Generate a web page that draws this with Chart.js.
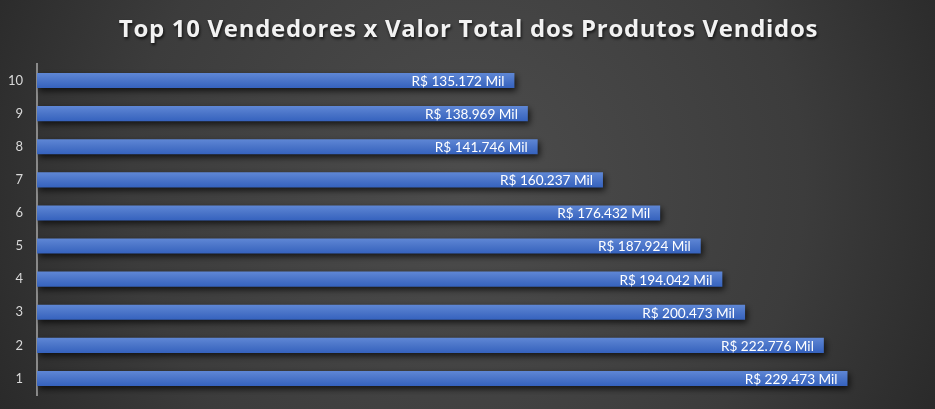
<!DOCTYPE html>
<html><head><meta charset="utf-8">
<script src="https://cdn.jsdelivr.net/npm/chart.js@4"></script>
<style>html,body{margin:0;padding:0;background:#333;}#wrap{width:935px;height:409px;}</style>
</head><body><div id="wrap"><canvas id="c" width="935" height="409"></canvas></div>
<script>
const titleText = 'Top 10 Vendedores x Valor Total dos Produtos Vendidos';
const categories = ['1','2','3','4','5','6','7','8','9','10'];
const valuesThousands = [229.473, 222.776, 200.473, 194.042, 187.924, 176.432, 160.237, 141.746, 138.969, 135.172];
const xMin = 0, xMax = 250;

function fmt(v){ return 'R$ ' + v.toFixed(3) + ' Mil'; }

const bgPlugin = {
  id:'bg',
  beforeDraw(chart){
    const {ctx,width,height} = chart;
    ctx.save();
    const g = ctx.createRadialGradient(width*0.5,height*0.45,0,width*0.5,height*0.45,width*0.6);
    g.addColorStop(0,'#4d4d4d');
    g.addColorStop(0.6,'#3c3c3c');
    g.addColorStop(1,'#262626');
    ctx.fillStyle = g;
    ctx.fillRect(0,0,width,height);
    ctx.font = 'bold 24px "Open Sans"';
    ctx.textAlign = 'center';
    ctx.textBaseline = 'alphabetic';
    try{ ctx.letterSpacing = '0.7px'; }catch(e){}
    ctx.shadowColor = 'rgba(0,0,0,0.7)';
    ctx.shadowBlur = 3; ctx.shadowOffsetX = 1; ctx.shadowOffsetY = 2;
    ctx.fillStyle = '#f2f2f2';
    ctx.fillText(titleText, width/2 + 1, 37);
    ctx.restore();
  },
  beforeDatasetsDraw(chart){
    const ctx = chart.ctx;
    ctx.save();
    ctx.shadowColor = 'rgba(0,0,0,0.7)';
    ctx.shadowBlur = 6; ctx.shadowOffsetX = 2; ctx.shadowOffsetY = 3;
  },
  afterDatasetsDraw(chart){
    const ctx = chart.ctx;
    ctx.restore();
    const meta = chart.getDatasetMeta(0);
    ctx.save();
    ctx.font = '13.6px Lato';
    ctx.fillStyle = '#ffffff';
    ctx.textAlign = 'right';
    ctx.textBaseline = 'middle';
    meta.data.forEach((el,i)=>{
      ctx.fillText(fmt(valuesThousands[i]), el.x - 10, el.y + 1);
    });
    ctx.restore();
  }
};

new Chart(document.getElementById('c'), {
  type:'bar',
  data:{
    labels: categories,
    datasets:[{
      data: valuesThousands,
      borderWidth:0,
      backgroundColor(c){
        const chart = c.chart;
        const ys = chart.scales && chart.scales.y;
        if(!ys || !chart.chartArea) return '#4472c4';
        const yc = ys.getPixelForValue(c.dataIndex);
        const g = chart.ctx.createLinearGradient(0,yc-8,0,yc+8);
        g.addColorStop(0,'#6088d6');
        g.addColorStop(0.5,'#4a74c8');
        g.addColorStop(1,'#3461bd');
        return g;
      },
      categoryPercentage:0.455,
      barPercentage:1
    }]
  },
  options:{
    indexAxis:'y',
    responsive:false,
    animation:false,
    layout:{padding:{top:64,bottom:14,left:0,right:15}},
    plugins:{legend:{display:false},title:{display:false},tooltip:{enabled:false}},
    scales:{
      x:{display:false,min:xMin,max:xMax},
      y:{
        reverse:true,
        grid:{display:false,drawTicks:false},
        border:{display:true,color:'#8a8a8a',width:2},
        ticks:{color:'#d9d9d9',font:{family:'Lato',size:13},padding:14},
        afterFit(s){ s.width = 37; s.paddingTop = 0; s.paddingBottom = 0; }
      }
    }
  },
  plugins:[bgPlugin]
});
</script></body></html>
